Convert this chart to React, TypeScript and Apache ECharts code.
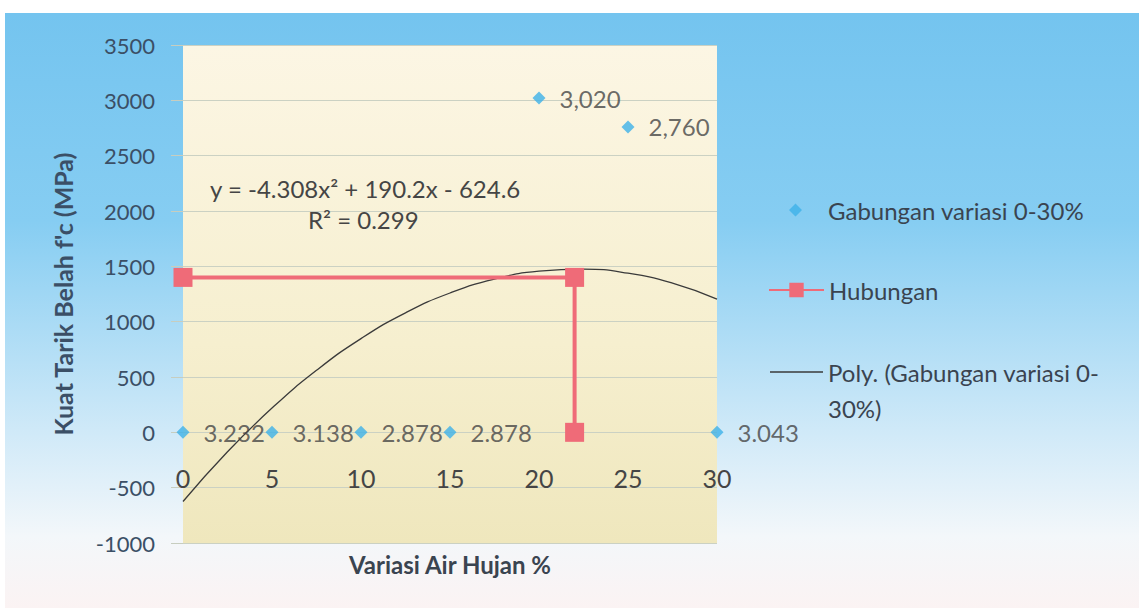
import React, { useEffect, useRef } from "react";
import * as echarts from "echarts";

// ---- data ----
const gabunganX = [0, 5, 10, 15, 20, 25, 30];
const gabunganY = [0, 0, 0, 0, 3020, 2760, 0];
const gabunganLabels = ["3.232", "3.138", "2.878", "2.878", "3,020", "2,760", "3.043"];

const hubunganX = [0, 22, 22];
const hubunganY = [1400, 1400, 0];

// polynomial trendline, points
const polyX = [0, 2.5, 5, 7.5, 10, 12.5, 15, 17.5, 20, 22.5, 25, 27.5, 30];
const polyY = [-625, -176, 219, 560, 847, 1080, 1259, 1385, 1456, 1474, 1438, 1348, 1204];

const yTicks = { min: -1000, max: 3500, interval: 500 };
const xTicks = { min: 0, max: 30, interval: 5 };

const seriesNames = ["Gabungan variasi 0-30%", "Hubungan", "Poly. (Gabungan variasi 0-30%)"];
const polyLegendLines = ["Poly. (Gabungan variasi 0-", "30%)"];
const equationText = "y = -4.308x² + 190.2x - 624.6";
const r2Text = "R² = 0.299";
const xTitle = "Variasi Air Hujan %";
const yTitle = "Kuat Tarik Belah f'c (MPa)";

const FONT = "Lato";
const TEXT = "#3a4450";
const AXIS_TEXT = "#3b4f66";

// diamond centred in a 55x14 box (degenerate end points keep the box width)
const DIAMOND_ICON =
  "path://M0,7L0.01,7L0,7.01Z M55,7L54.99,7L55,7.01Z M27.5,0.5L34,7L27.5,13.5L21,7Z";

export default function App() {
  const ref = useRef<HTMLDivElement>(null);

  useEffect(() => {
    if (!ref.current) return;
    const chart = echarts.init(ref.current, undefined, { renderer: "svg" });

    const option: any = {
      animation: false,
      backgroundColor: "#ffffff",
      textStyle: { fontFamily: FONT },
      graphic: [
        {
          type: "rect",
          z: -10,
          silent: true,
          shape: { x: 5, y: 13, width: 1134, height: 595 },
          style: {
            fill: {
              type: "linear",
              x: 0, y: 0, x2: 0, y2: 1,
              colorStops: [
                { offset: 0, color: "#74c4ef" },
                { offset: 0.35, color: "#86cdf2" },
                { offset: 0.7, color: "#cfe9f8" },
                { offset: 0.88, color: "#f3f7fa" },
                { offset: 1, color: "#fbf3f3" },
              ],
            },
          },
        },
        {
          type: "text",
          left: 210,
          top: 176,
          z: 10,
          style: { text: equationText, font: `24px ${FONT}`, fill: "#454545" },
        },
        {
          type: "text",
          left: 308,
          top: 207,
          z: 10,
          style: { text: r2Text, font: `24px ${FONT}`, fill: "#454545" },
        },
      ],
      grid: {
        left: 183,
        right: 422,
        top: 45,
        bottom: 69,
        containLabel: false,
        outerBoundsMode: "none",
        show: true,
        borderWidth: 0,
        backgroundColor: {
          type: "linear",
          x: 0, y: 0, x2: 0, y2: 1,
          colorStops: [
            { offset: 0, color: "#fcf6e4" },
            { offset: 0.6, color: "#f6efcf" },
            { offset: 1, color: "#efe7bd" },
          ],
        },
      },
      legend: [
        {
          data: [{ name: seriesNames[0], icon: DIAMOND_ICON }],
          left: 768,
          top: 198,
          padding: 0,
          itemWidth: 55,
          itemHeight: 14,
          symbolKeepAspect: true,
          textStyle: { fontFamily: FONT, fontSize: 24, color: TEXT },
        },
        {
          data: [seriesNames[1]],
          left: 768,
          top: 278,
          padding: 0,
          itemWidth: 55,
          itemHeight: 18,
          textStyle: { fontFamily: FONT, fontSize: 24, color: TEXT },
        },
        {
          data: [{ name: seriesNames[2], icon: "rect" }],
          left: 770,
          top: 318,
          padding: 0,
          itemWidth: 53,
          itemHeight: 1.5,
          formatter: () => "\n" + polyLegendLines.join("\n"),
          textStyle: {
            fontFamily: FONT,
            fontSize: 24,
            lineHeight: 36,
            color: TEXT,
          },
        },
      ],
      xAxis: {
        type: "value",
        min: xTicks.min,
        max: xTicks.max,
        interval: xTicks.interval,
        name: xTitle,
        nameLocation: "middle",
        nameGap: 9,
        nameMoveOverlap: false,
        nameTextStyle: { fontFamily: FONT, fontSize: 24, fontWeight: "bold", color: TEXT },
        axisLine: { show: false, onZero: false },
        axisTick: { show: false },
        axisLabel: {
          inside: true,
          margin: 53,
          fontFamily: FONT,
          fontSize: 25,
          color: "#454545",
        },
        splitLine: { show: false },
      },
      yAxis: {
        type: "value",
        min: yTicks.min,
        max: yTicks.max,
        interval: yTicks.interval,
        name: yTitle,
        nameLocation: "middle",
        nameGap: 108,
        nameTextStyle: { fontFamily: FONT, fontSize: 25, fontWeight: "bold", color: AXIS_TEXT },
        axisLine: { show: false },
        axisTick: { show: true, length: 12, lineStyle: { color: "#c7cdbf" } },
        axisLabel: {
          margin: 28,
          fontFamily: FONT,
          fontSize: 22,
          color: AXIS_TEXT,
          formatter: (v: number) => String(v),
        },
        splitLine: { show: true, lineStyle: { color: "#cbd1c3", width: 1 } },
      },
      series: [
        {
          name: seriesNames[0],
          type: "scatter",
          symbol: "diamond",
          symbolSize: 13,
          itemStyle: { color: "#3db1e8" },
          z: 4,
          data: gabunganX.map((x, i) => [x, gabunganY[i]]),
          label: {
            show: true,
            position: "right",
            distance: 14,
            fontFamily: FONT,
            fontSize: 24,
            color: "#454545",
            formatter: (p: any) => gabunganLabels[p.dataIndex],
          },
        },
        {
          name: seriesNames[1],
          type: "line",
          symbol: "rect",
          symbolSize: 19,
          lineStyle: { color: "#ef6b78", width: 4 },
          itemStyle: { color: "#ef6b78" },
          z: 3,
          data: hubunganX.map((x, i) => [x, hubunganY[i]]),
        },
        {
          name: seriesNames[2],
          type: "line",
          smooth: true,
          showSymbol: false,
          symbol: "none",
          lineStyle: { color: "#3a3a3a", width: 1.3 },
          itemStyle: { color: "#3a3a3a" },
          z: 2,
          data: polyX.map((x, i) => [x, polyY[i]]),
        },
      ],
    };

    chart.setOption(option);
    return () => chart.dispose();
  }, []);

  return (
    <div
      ref={ref}
      style={{ position: "fixed", left: 0, top: 0, width: 1139, height: 612 }}
    />
  );
}
